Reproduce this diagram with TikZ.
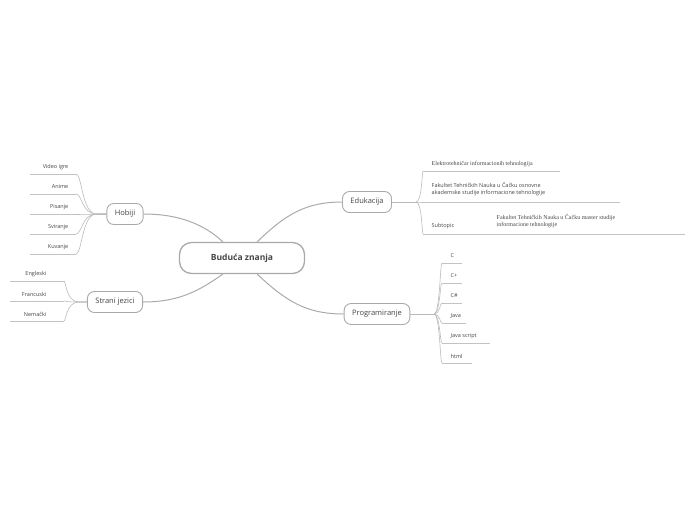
\documentclass[tikz,border=0pt]{standalone}
\usepackage{fontspec}
\setmainfont{Open Sans}
\newfontfamily\serifleaf{Liberation Serif}
\usetikzlibrary{positioning}
\definecolor{linegray}{RGB}{170,170,170}
\definecolor{textgray}{RGB}{70,70,70}
\tikzset{
  topic/.style={draw=linegray, line width=0.9pt, rounded corners=7pt, fill=white, text=textgray, font=\fontsize{7.5}{9}\selectfont, minimum height=21pt, inner xsep=8pt},
  central/.style={topic, line width=1.3pt, rounded corners=12pt, minimum height=31pt, minimum width=125pt, font=\bfseries\fontsize{8.5}{10}\selectfont},
  leaf/.style={text=textgray, font=\fontsize{5.5}{7}\selectfont, inner sep=1.5pt, align=left},
  uline/.style={draw=linegray!70, line width=0.6pt},
  branch/.style={draw=linegray, line width=1pt},
  twig/.style={draw=linegray!80, line width=0.6pt}
}
\begin{document}
\begin{tikzpicture}[x=1pt, y=-1pt]
  \useasboundingbox (0,0) rectangle (696,520);

  \node[central] (Root) at (242,258) {Buduća znanja};
  \node[topic] (Hobiji) at (125,214) {Hobiji};
  \node[topic] (Strani) at (115,302) {Strani jezici};
  \node[topic] (Edukacija) at (367,202) {Edukacija};
  \node[topic] (Program) at (377,314) {Programiranje};

  \draw[branch] (Root.north west) ++(44,0) coordinate (rh) (rh) .. controls (205,225) and (180,214) .. (Hobiji.east);
  \draw[branch] (Root.south west) ++(44,0) coordinate (rs) (rs) .. controls (200,290) and (180,302) .. (Strani.east);
  \draw[branch] (Root.north east) ++(-48,0) coordinate (re) (re) .. controls (285,215) and (305,202) .. (Edukacija.west);
  \draw[branch] (Root.south east) ++(-48,0) coordinate (rp) (rp) .. controls (285,300) and (305,314) .. (Program.west);

  % Hobiji
  \foreach \name/\txt/\y in {v/Video igre/167, a/Anime/187, p/Pisanje/207, s/Sviranje/227, k/Kuvanje/247}{
    \node[leaf, anchor=east] (h\name) at (70,\y) {\txt};
    \coordinate (h\name e) at (76,\y+7);
    \draw[uline] (30,\y+7) -- (h\name e);
    \draw[twig] (Hobiji.west) -- ++(-10,0) .. controls (82,214) and (82,\y+7) .. (h\name e);
  }

  % Strani jezici
  \foreach \name/\txt/\y in {e/Engleski/274, f/Francuski/294, n/Nemački/314}{
    \node[leaf, anchor=east] (s\name) at (48,\y) {\txt};
    \coordinate (s\name e) at (64,\y+7);
    \draw[uline] (10,\y+7) -- (s\name e);
    \draw[twig] (Strani.west) -- ++(-8,0) .. controls (66,302) and (66,\y+7) .. (s\name e);
  }

  % Edukacija
  \coordinate (ehub) at (416,202);
  \draw[twig] (Edukacija.east) -- (ehub);
  \node[leaf, anchor=west, font=\serifleaf\fontsize{6}{7}\selectfont] (e1) at (430,164) {Elektrotehničar informacionih tehnologija};
  \node[leaf, anchor=west] (e2) at (430,189.5) {Fakultet Tehničkih Nauka u Čačku osnovne\\akademske studije informacione tehnologije};
  \node[leaf, anchor=west] (e3) at (430,226) {Subtopic};
  \node[leaf, anchor=west, font=\serifleaf\fontsize{6}{7}\selectfont] (e3n) at (495,221) {Fakultet Tehničkih Nauka u Čačku master studije\\informacione tehnologije};
  \foreach \n/\y/\xe in {1/171/560, 2/202/620, 3/234/685}{
    \coordinate (eu\n) at (423,\y);
    \draw[uline] (eu\n) -- (\xe,\y);
    \draw[twig] (ehub) .. controls (422,202) and (422,\y) .. (eu\n) ;
  }

  % Programiranje
  \coordinate (phub) at (434,314);
  \draw[twig] (Program.east) -- (phub);
  \foreach \name/\txt/\y/\xe in {c/C/256/462, cp/C+/276/462, cs/C\#/296/462, j/Java/316/466, js/Java script/336/490, h/html/356/472}{
    \node[leaf, anchor=west] (p\name) at (449,\y) {\txt};
    \coordinate (p\name s) at (442,\y+7);
    \draw[uline] (p\name s) -- (\xe,\y+7);
    \draw[twig] (phub) .. controls (440,314) and (440,\y+7) .. (p\name s);
  }
\end{tikzpicture}
\end{document}
